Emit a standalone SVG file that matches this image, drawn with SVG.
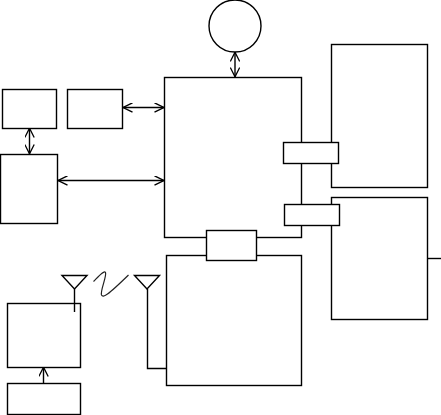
<svg xmlns="http://www.w3.org/2000/svg" width="441" height="415" viewBox="0 0 441 415">
<style>
.n{fill:#fff;stroke:#000;stroke-width:1.4}
.l{fill:none;stroke:#000;stroke-width:1.4}
.a{fill:none;stroke:#000;stroke-width:1.4;marker-start:url(#h);marker-end:url(#h)}
.e{fill:none;stroke:#000;stroke-width:1.4;marker-end:url(#h)}
</style>
<defs>
<marker id="h" viewBox="0 0 10 10" refX="10" refY="5" markerWidth="10" markerHeight="10" markerUnits="userSpaceOnUse" orient="auto-start-reverse"><path d="M0.500 0.300L9.800 5L0.500 9.700" fill="none" stroke="#000" stroke-width="1.300"/></marker>
</defs>
<g id="connectors">
<path class="a" d="M235 52V77"/>
<path class="a" d="M123 107.500H164"/>
<path class="a" d="M29.500 128V154"/>
<path class="a" d="M58 180.500H164"/>
<path class="e" d="M43.500 383V367"/>
<path class="l" d="M74.500 289V312"/>
<path class="l" d="M147.500 289V368.500H166"/>
<path class="l" d="M427 258.500H441"/>
<path d="M93.500 281.500C98 277 104 270 105.500 272.500C107 276 100 291 101.500 295C103 298 107 296 128.500 275" fill="none" stroke="#222" stroke-width="1.200"/>
</g>
<g id="circle"><circle class="n" cx="235" cy="26" r="26"/></g>
<g id="box-a"><rect class="n" x="2.500" y="89.500" width="54" height="39"/></g>
<g id="box-b"><rect class="n" x="67.500" y="89.500" width="55" height="39"/></g>
<g id="box-c"><rect class="n" x="0.500" y="154.500" width="57" height="69"/></g>
<g id="main"><rect class="n" x="164.500" y="77.500" width="137" height="160"/></g>
<g id="bottom"><rect class="n" x="166.500" y="255.500" width="135" height="130"/></g>
<g id="right-top"><rect class="n" x="331.500" y="44.500" width="96" height="143"/></g>
<g id="right-bottom"><rect class="n" x="331.500" y="197.500" width="96" height="122"/></g>
<g id="port-a"><rect class="n" x="283.500" y="142.500" width="55" height="21"/></g>
<g id="port-b"><rect class="n" x="284.500" y="204.500" width="55" height="21"/></g>
<g id="port-c"><rect class="n" x="206.500" y="230.500" width="50" height="30"/></g>
<g id="device"><rect class="n" x="7.500" y="303.500" width="73" height="64"/></g>
<g id="source"><rect class="n" x="7.500" y="383.500" width="73" height="31"/></g>
<g id="antenna-a"><path class="l" d="M62 275.500H87L74.500 289Z"/></g>
<g id="antenna-b"><path class="l" d="M134.500 275.500H159.500L147 289Z"/></g>
<path class="l" d="M74.500 303V312"/>
</svg>
